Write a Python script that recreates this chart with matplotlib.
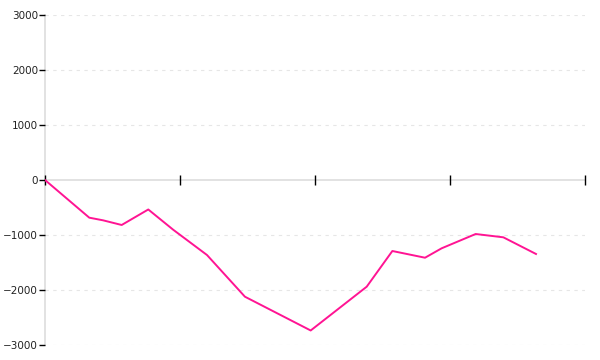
import matplotlib
matplotlib.use("Agg")
import matplotlib.pyplot as plt

# x positions in tick units (ticks at 0..4)
x_pos = [0.0, 0.328, 0.43, 0.568, 0.765, 0.95, 1.2, 1.481, 1.968,
         2.383, 2.573, 2.815, 2.938, 3.190, 3.395, 3.637]
values = [0, -685, -733, -818, -536, -905, -1364, -2122, -2736,
          -1940, -1291, -1413, -1242, -982, -1042, -1345]

y_ticks = [-3000, -2000, -1000, 0, 1000, 2000, 3000]
x_ticks = [0, 1, 2, 3, 4]

fig = plt.figure(figsize=(6, 3.6), dpi=100)
ax = fig.add_axes([45 / 600, 15 / 360, 540 / 600, 330 / 360])

ax.plot(x_pos, values, color="#ff1493", linewidth=1.4, zorder=3)

ax.set_xlim(0, 4)
ax.set_ylim(-3000, 3000)

# dashed horizontal grid, skip zero where the axis sits
for v in y_ticks:
    if v != 0:
        ax.axhline(v, color="#e6e6e6", linewidth=0.8, linestyle=(0, (3, 4)), zorder=0)

for side in ["top", "right"]:
    ax.spines[side].set_visible(False)
ax.spines["bottom"].set_position(("data", 0))
for side in ["left", "bottom"]:
    ax.spines[side].set_color("#dddddd")
    ax.spines[side].set_linewidth(1.2)
    ax.spines[side].set_zorder(1)

ax.set_yticks(y_ticks)
ax.set_xticks(x_ticks)
ax.set_xticklabels([])
ax.tick_params(axis="y", direction="out", length=4, width=1, color="black",
               labelsize=7.5, labelcolor="#222222", pad=1)
ax.tick_params(axis="x", direction="inout", length=7, width=1, color="black")
for t in ax.xaxis.get_major_ticks() + ax.yaxis.get_major_ticks():
    t.tick1line.set_clip_on(False)
    t.tick2line.set_clip_on(False)
ax.xaxis.set_zorder(2)
ax.yaxis.set_zorder(2)

fig.savefig("out.png", dpi=100)
